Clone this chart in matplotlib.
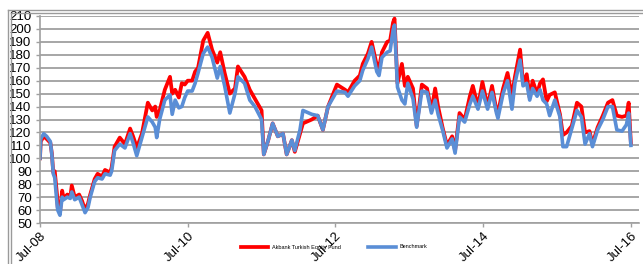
import matplotlib.pyplot as plt
import numpy as np

# time axis in decimal years
years = [2008.50, 2008.51, 2008.55, 2008.59, 2008.64, 2008.66, 2008.68, 2008.70, 2008.73, 2008.74,
         2008.77, 2008.80, 2008.82, 2008.87, 2008.91, 2008.93, 2008.97, 2009.03, 2009.07, 2009.11,
         2009.15, 2009.18, 2009.24, 2009.28, 2009.34, 2009.38, 2009.45, 2009.47, 2009.51, 2009.58,
         2009.65, 2009.72, 2009.76, 2009.79, 2009.81, 2009.88, 2009.96, 2010.02, 2010.06, 2010.08,
         2010.12, 2010.19, 2010.26, 2010.29, 2010.33, 2010.38, 2010.42, 2010.46, 2010.50, 2010.56,
         2010.60, 2010.64, 2010.71, 2010.77, 2010.83, 2010.90, 2010.94, 2011.00, 2011.07, 2011.14,
         2011.18, 2011.27, 2011.34, 2011.41, 2011.50, 2011.53, 2011.59, 2011.65, 2011.72, 2011.79,
         2011.84, 2011.91, 2011.95, 2012.02, 2012.06, 2012.18, 2012.26, 2012.33, 2012.40, 2012.52,
         2012.63, 2012.67, 2012.76, 2012.83, 2012.87, 2012.94, 2012.99, 2013.06, 2013.09, 2013.13,
         2013.20, 2013.24, 2013.28, 2013.30, 2013.34, 2013.40, 2013.44, 2013.48, 2013.55, 2013.60,
         2013.67, 2013.74, 2013.80, 2013.85, 2013.89, 2013.95, 2014.01, 2014.08, 2014.12, 2014.18,
         2014.25, 2014.32, 2014.36, 2014.43, 2014.49, 2014.56, 2014.62, 2014.68, 2014.70, 2014.77,
         2014.83, 2014.89, 2014.93, 2015.00, 2015.04, 2015.09, 2015.13, 2015.17, 2015.23, 2015.27,
         2015.31, 2015.36, 2015.40, 2015.47, 2015.54, 2015.58, 2015.63, 2015.70, 2015.77, 2015.83,
         2015.88, 2015.94, 2015.98, 2016.05, 2016.12, 2016.19, 2016.25, 2016.31, 2016.38, 2016.44,
         2016.47, 2016.50]

fund = [100, 113, 117, 115, 112, 104, 89, 90, 72, 62,
        58, 75, 69, 72, 70, 79, 70, 72, 67, 60,
        65, 72, 84, 88, 86, 91, 89, 93, 109, 116,
        111, 123, 117, 112, 108, 119, 143, 137, 140, 132,
        137, 153, 163, 150, 153, 147, 158, 157, 160, 160,
        167, 170, 191, 197, 184, 174, 182, 166, 150, 154,
        171, 163, 153, 146, 137, 103, 114, 127, 117, 119,
        103, 114, 105, 119, 127, 130, 133, 122, 140, 157,
        153, 151, 160, 164, 173, 181, 190, 172, 170, 182,
        190, 191, 205, 208, 158, 173, 156, 163, 154, 125,
        157, 154, 137, 154, 140, 124, 110, 117, 106, 135,
        130, 148, 156, 140, 159, 140, 156, 137, 135, 154,
        166, 148, 163, 184, 158, 165, 147, 160, 150, 158,
        161, 144, 149, 151, 134, 118, 120, 125, 143, 140,
        120, 121, 111, 124, 133, 143, 145, 133, 132, 133,
        143, 112]

benchmark = [100, 115, 119, 117, 113, 103, 88, 85, 65, 60,
             56, 70, 68, 70, 69, 74, 68, 70, 64, 58,
             62, 70, 82, 85, 84, 88, 87, 90, 106, 111,
             108, 119, 112, 106, 102, 116, 132, 128, 124, 116,
             130, 145, 149, 134, 145, 139, 140, 147, 152, 152,
             158, 166, 181, 186, 178, 162, 171, 156, 135, 150,
             163, 158, 145, 140, 130, 103, 114, 127, 117, 119,
             103, 114, 106, 122, 137, 134, 133, 122, 140, 152,
             151, 148, 156, 160, 168, 177, 186, 167, 164, 178,
             182, 183, 199, 203, 155, 145, 142, 158, 146, 124,
             152, 151, 135, 145, 134, 122, 108, 115, 104, 132,
             128, 142, 148, 138, 152, 138, 151, 135, 131, 150,
             160, 138, 158, 176, 156, 158, 145, 154, 148, 153,
             145, 142, 133, 145, 132, 109, 109, 123, 137, 132,
             111, 119, 109, 122, 130, 140, 140, 122, 121, 126,
             135, 110]

tick_years = [2008.5, 2010.5, 2012.5, 2014.5, 2016.5]
tick_labels = ['Jul-08', 'Jul-10', 'Jul-12', 'Jul-14', 'Jul-16']

plt.rcParams['font.family'] = ['Liberation Sans', 'DejaVu Sans']

fig = plt.figure(figsize=(6.43, 2.64), dpi=100)
ax = fig.add_axes([40/643, 1 - 223/264, 599/643, 207/264])

ax.plot(years, fund, color='#FF0000', linewidth=2.7, label='Akbank Turkish Equity Fund')
ax.plot(years, benchmark, color='#5A8ED6', linewidth=2.6, label='Benchmark')

ax.set_xlim(2008.5, 2016.61)
ax.set_ylim(50, 210)
ax.set_yticks(np.arange(50, 211, 10))
ax.set_xticks(tick_years)
ax.set_xticklabels(tick_labels, rotation=45, ha='right', va='top', rotation_mode='anchor')
ax.tick_params(axis='both', labelsize=9.5, colors='#A0A0A0', labelcolor='black', length=3, width=1)
ax.tick_params(axis='y', pad=3)
ax.tick_params(axis='x', pad=2)

ax.grid(axis='y', color='#A6A6A6', linewidth=1.4)
ax.set_axisbelow(True)
for s in ['top', 'right']:
    ax.spines[s].set_visible(False)
for s in ['left', 'bottom']:
    ax.spines[s].set_color('#A0A0A0')
    ax.spines[s].set_linewidth(1.2)

fig.legend(loc='center', bbox_to_anchor=(334/643, 1 - 247/264), ncol=2, fontsize=4,
           frameon=False, handlelength=5, columnspacing=5, handletextpad=0.6)

# chart area border (top and left, double line)
for off in [0, 3]:
    fig.add_artist(plt.Line2D([(8 + off)/643, 1], [1 - (10 + off)/264] * 2, color='#9A9A9A', linewidth=1))
    fig.add_artist(plt.Line2D([(8 + off)/643] * 2, [0, 1 - (10 + off)/264], color='#9A9A9A', linewidth=1))

fig.savefig('out.png', dpi=100)
